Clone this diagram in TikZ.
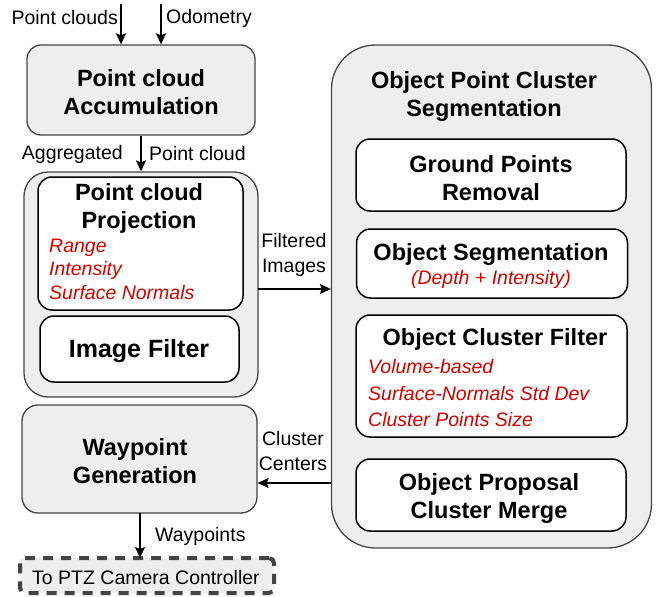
\documentclass[tikz,border=0pt]{standalone}
\usepackage{fontspec}
\setmainfont{Liberation Sans}
\usetikzlibrary{arrows.meta}
\definecolor{boxgray}{HTML}{EEEEEE}
\definecolor{edgegray}{HTML}{444444}
\definecolor{redtxt}{HTML}{CC0000}
\begin{document}
\begin{tikzpicture}[x=1pt,y=-1pt,
  gbox/.style={draw=edgegray,fill=boxgray,line width=1.3pt,inner sep=0pt},
  wbox/.style={draw=black,fill=white,line width=1.5pt,inner sep=0pt,rounded corners=14pt},
  ttl/.style={font=\bfseries\fontsize{23.5}{28}\selectfont,align=center,inner sep=0pt},
  lbl/.style={font=\fontsize{19.5}{24}\selectfont,inner sep=0pt},
  red/.style={font=\itshape\fontsize{19.5}{23}\selectfont,text=redtxt,inner sep=0pt,anchor=west},
  arr/.style={draw=black,line width=1.4pt,-{Stealth[length=11pt,width=10pt,inset=2pt]}}]
\useasboundingbox (0,0) rectangle (657,597);
% boxes
\node[gbox,rounded corners=14pt,minimum width=228pt,minimum height=90pt] (acc) at (141,90) {};
\node[gbox,rounded corners=24pt,minimum width=234pt,minimum height=225pt] (grp) at (141,284.5) {};
\node[wbox,minimum width=205pt,minimum height=133pt] (proj) at (140.5,243.5) {};
\node[wbox,minimum width=199pt,minimum height=66pt] (filt) at (139.5,349) {};
\node[gbox,rounded corners=16pt,minimum width=235pt,minimum height=108pt] (way) at (139.5,459) {};
\node[draw=edgegray,fill=boxgray,line width=4pt,dash pattern=on 10pt off 8pt,rounded corners=5pt,inner sep=0pt,minimum width=254pt,minimum height=35pt] (ptz) at (147,575.5) {};
\node[gbox,rounded corners=44pt,minimum width=320pt,minimum height=503pt] (seg) at (491.5,296.5) {};
\node[wbox,minimum width=270pt,minimum height=72pt] (gnd) at (491,175) {};
\node[wbox,minimum width=271pt,minimum height=69pt] (oseg) at (492,263.5) {};
\node[wbox,minimum width=271pt,minimum height=122pt] (ocf) at (491.5,376) {};
\node[wbox,minimum width=270pt,minimum height=72pt] (opm) at (491,495) {};
% texts
\node[ttl] (tacc) at (141,92) {Point cloud\\Accumulation};
\node[ttl] (tproj) at (139,208.5) {Point cloud\\Projection};
\node[red] (r1) at (49,248) {Range};
\node[red] (r2) at (49,270.5) {Intensity};
\node[red] (r3) at (49,293) {Surface Normals};
\node[ttl,font=\bfseries\fontsize{25}{30}\selectfont] (tfilt) at (139,351.5) {Image Filter};
\node[ttl] (tway) at (135,461.5) {Waypoint\\Generation};
\node[lbl] (tptz) at (146,578) {To PTZ Camera Controller};
\node[ttl] (tseg) at (484,96.5) {Object Point Cluster\\Segmentation};
\node[ttl] (tgnd) at (491,178) {Ground Points\\Removal};
\node[ttl] (toseg) at (491,254.5) {Object Segmentation};
\node[red,anchor=center] (dep) at (491,279) {(Depth + Intensity)};
\node[ttl] (tocf) at (495,339.5) {Object Cluster Filter};
\node[red] (c1) at (368,367) {Volume-based};
\node[red] (c2) at (368,394) {Surface-Normals Std Dev};
\node[red] (c3) at (368,420) {Cluster Points Size};
\node[ttl] (topm) at (489,498) {Object Proposal\\Cluster Merge};
% arrows
\coordinate (pcin) at (121,4);
\coordinate (odin) at (161,4);
\draw[arr] (pcin) -- (pcin |- acc.north);
\draw[arr] (odin) -- (odin |- acc.north);
\node[lbl,anchor=east] (lpc) at (118,18) {Point clouds};
\node[lbl,anchor=west] (lod) at (166,18) {Odometry};
\draw[arr] (acc.south) -- (grp.north);
\node[lbl,anchor=east] (lagg) at (123,154) {Aggregated};
\node[lbl,anchor=west] (lpc2) at (149,154) {Point cloud};
\coordinate (fi) at (258,289);
\draw[arr] (fi) -- (fi -| seg.west);
\node[lbl,align=center,font=\fontsize{19.5}{25}\selectfont] (lfi) at (294,255) {Filtered\\Images};
\coordinate (cc) at (331,483);
\draw[arr] (cc) -- (cc -| way.east);
\node[lbl,align=center,font=\fontsize{19.5}{25}\selectfont] (lcc) at (293,451) {Cluster\\Centers};
\draw[arr] (140,513) -- (140,558);
\node[lbl,anchor=west] (lwp) at (155,536) {Waypoints};
\end{tikzpicture}
\end{document}
